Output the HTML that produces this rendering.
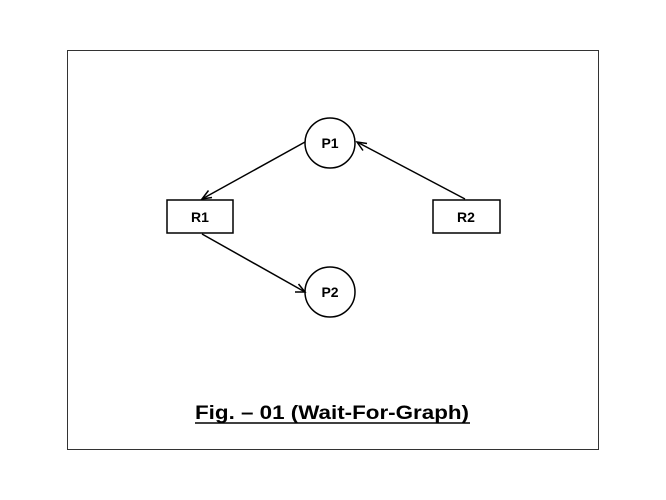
<!DOCTYPE html>
<html><head><style>
body{margin:0;background:#fff;width:666px;height:500px;overflow:hidden}
</style></head><body>
<svg width="666" height="500" xmlns="http://www.w3.org/2000/svg" style="position:absolute;left:0;top:0">
<rect x="67.5" y="50.5" width="531" height="399" fill="none" stroke="#333" stroke-width="1"/>
<g stroke="#000" stroke-width="1.5" fill="none">
<circle cx="330" cy="143" r="25"/>
<circle cx="330" cy="292" r="25"/>
<rect x="167" y="200" width="66" height="33"/>
<rect x="433" y="200" width="67" height="33"/>
<line x1="305" y1="142" x2="202" y2="199"/>
<polyline points="208.5,190.5 202,199 212,197.5"/>
<line x1="465" y1="199" x2="357" y2="142"/>
<polyline points="367,143.5 357,142 363,150.5"/>
<line x1="202" y1="234" x2="305" y2="292"/>
<polyline points="295,292 305,292 298.5,284"/>
</g>
<g font-family="Liberation Sans, sans-serif" font-weight="bold" font-size="14" text-anchor="middle">
<text x="330" y="148">P1</text>
<text x="330" y="297">P2</text>
<text x="200" y="222">R1</text>
<text x="466" y="222">R2</text>
</g>
<text x="332" y="419" font-family="Liberation Sans, sans-serif" font-weight="bold" font-size="19" text-anchor="middle" textLength="274" lengthAdjust="spacingAndGlyphs">Fig. – 01 (Wait-For-Graph)</text>
<line x1="195" y1="423" x2="470" y2="423" stroke="#000" stroke-width="1.5"/>
</svg>
</body></html>
